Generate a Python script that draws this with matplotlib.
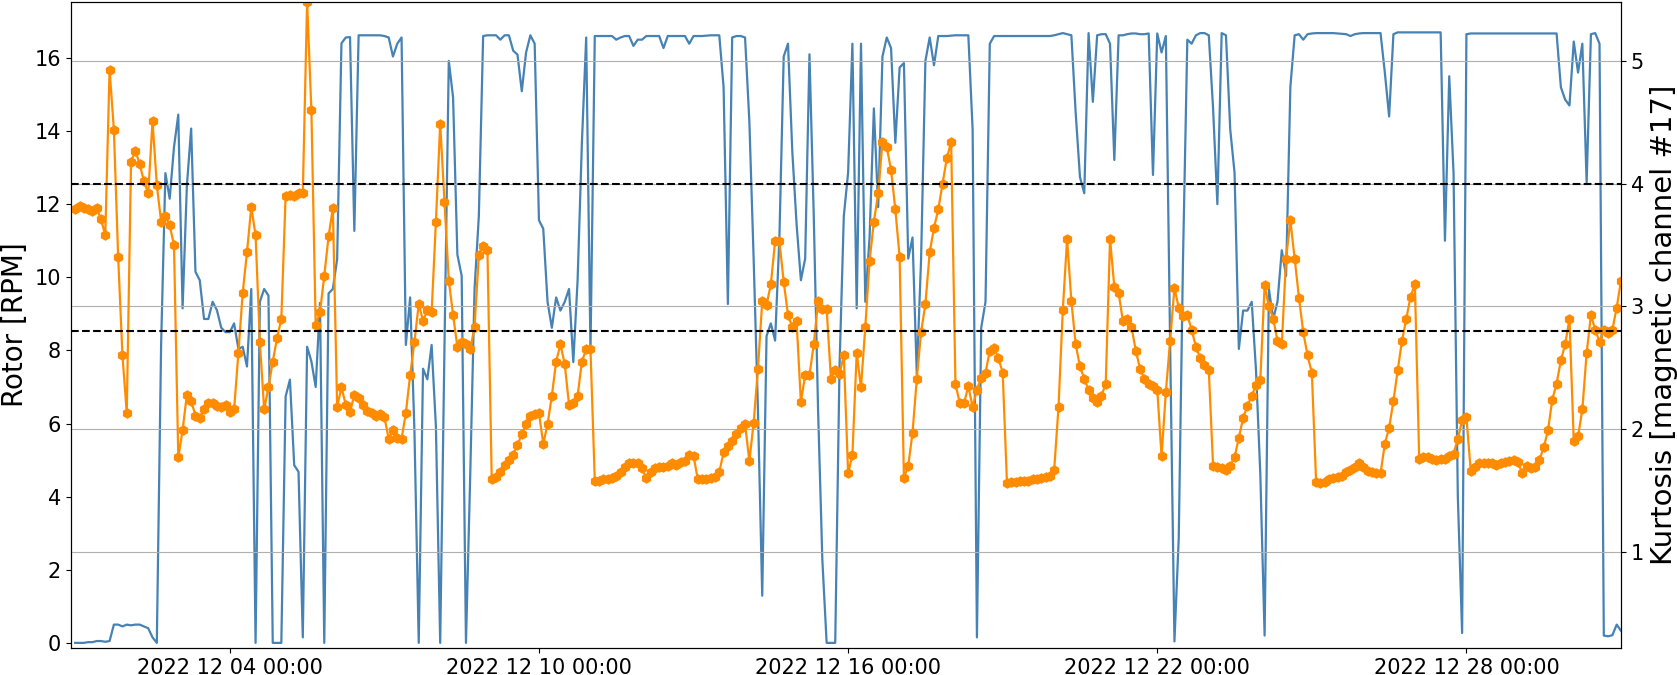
import pandas as pd
import matplotlib
matplotlib.use("Agg")
import matplotlib.pyplot as plt
import matplotlib.dates as mdates

# 2-hourly samples from 2022-12-01 00:00 to 2022-12-31 00:00
start_time = "2022-12-01 00:00"
n_samples = 361

# Rotor speed [RPM]
rotor_rpm = [
    0, 0, 0, 0.02, 0.02, 0.05, 0.05, 0.03, 0.05, 0.50,
    0.50, 0.45, 0.50, 0.48, 0.50, 0.50, 0.45, 0.40, 0.15, 0,
    8.15, 12.85, 12.15, 13.56, 14.45, 9.15, 12.5, 14.07, 10.15, 9.92,
    8.86, 8.86, 9.33, 9.10, 8.62, 8.50, 8.50, 8.74, 8.04, 8.10,
    7.56, 9.68, 0, 9.33, 9.68, 9.50, 0, 0, 0, 6.74,
    7.20, 4.86, 4.68, 0.15, 8.10, 7.70, 7.00, 9.30, 0, 9.56,
    9.68, 10.5, 16.4, 16.56, 16.57, 11.27, 16.62, 16.62, 16.62, 16.62,
    16.62, 16.62, 16.6, 16.56, 16.04, 16.39, 16.56, 8.15, 9.45, 5.8,
    0, 7.5, 7.21, 8.15, 5.92, 0, 8.15, 15.92, 14.92, 10.62,
    10.04, 0, 4.62, 9.68, 11.68, 16.6, 16.62, 16.62, 16.62, 16.5,
    16.62, 16.62, 16.2, 16.09, 15.09, 16.15, 16.62, 16.39, 11.56, 11.33,
    9.33, 8.62, 9.45, 9.09, 9.33, 9.68, 7.68, 9.92, 13.68, 16.56,
    8.0, 16.6, 16.6, 16.6, 16.6, 16.6, 16.5, 16.56, 16.6, 16.6,
    16.33, 16.5, 16.5, 16.6, 16.6, 16.6, 16.6, 16.27, 16.6, 16.6,
    16.6, 16.6, 16.6, 16.39, 16.6, 16.6, 16.6, 16.61, 16.62, 16.62,
    16.62, 15.2, 9.27, 16.56, 16.6, 16.6, 16.56, 14.27, 10.5, 6.39,
    1.29, 8.39, 8.74, 8.27, 11.09, 16.04, 16.39, 13.45, 11.45, 9.92,
    10.51, 16.1, 11.68, 6.39, 2.27, 0, 0, 0, 7.56, 11.68,
    12.86, 16.39, 9.15, 16.39, 9.33, 11.09, 14.62, 11.92, 16.04, 16.56,
    16.27, 13.68, 15.74, 15.86, 10.51, 11.09, 7.33, 10.51, 15.92, 16.56,
    15.8, 16.6, 16.6, 16.6, 16.61, 16.62, 16.62, 16.62, 16.62, 14.04,
    0.15, 8.62, 9.33, 16.39, 16.6, 16.6, 16.6, 16.6, 16.6, 16.6,
    16.6, 16.6, 16.6, 16.6, 16.6, 16.6, 16.6, 16.6, 16.62, 16.65,
    16.68, 16.65, 16.62, 14.5, 12.74, 12.3, 16.68, 14.8, 16.62, 16.65,
    16.65, 16.39, 13.21, 16.62, 16.62, 16.65, 16.67, 16.67, 16.65, 16.65,
    16.67, 12.8, 16.67, 16.15, 16.6, 8.15, 0.04, 2.86, 10.51, 16.5,
    16.39, 16.62, 16.68, 16.68, 16.62, 14.62, 12.0, 16.68, 16.62, 14.04,
    12.86, 8.04, 9.09, 9.09, 9.33, 7.45, 4.62, 0.2, 9.68, 8.86,
    9.33, 10.74, 10.04, 15.21, 16.62, 16.65, 16.5, 16.65, 16.67, 16.68,
    16.68, 16.68, 16.68, 16.68, 16.67, 16.66, 16.65, 16.6, 16.65, 16.67,
    16.68, 16.68, 16.68, 16.68, 16.68, 15.6, 14.4, 16.65, 16.7, 16.7,
    16.7, 16.7, 16.7, 16.7, 16.7, 16.7, 16.7, 16.7, 16.7, 11.0,
    15.5, 12.86, 4.0, 0.27, 16.65, 16.67, 16.67, 16.67, 16.67, 16.67,
    16.67, 16.67, 16.67, 16.67, 16.67, 16.67, 16.67, 16.67, 16.67, 16.67,
    16.67, 16.67, 16.67, 16.67, 16.67, 16.67, 15.2, 14.86, 14.7, 16.45,
    15.6, 16.39, 12.6, 16.65, 16.68, 16.39, 0.2, 0.18, 0.21, 0.5, 0.33,
]

# Kurtosis, magnetic channel #17
kurtosis = [
    3.79, 3.82, 3.80, 3.79, 3.78, 3.80, 3.71, 3.58, 4.93, 4.44,
    3.40, 2.60, 2.13, 4.18, 4.27, 4.16, 4.02, 3.92, 4.51, 3.99,
    3.69, 3.74, 3.66, 3.50, 1.77, 1.99, 2.28, 2.23, 2.11, 2.09,
    2.16, 2.21, 2.21, 2.19, 2.18, 2.20, 2.14, 2.16, 2.62, 3.11,
    3.44, 3.81, 3.58, 2.71, 2.16, 2.34, 2.55, 2.74, 2.90, 3.90,
    3.91, 3.90, 3.92, 3.92, 5.48, 4.60, 2.85, 2.95, 3.25, 3.57,
    3.80, 2.18, 2.34, 2.20, 2.14, 2.28, 2.25, 2.20, 2.15, 2.13,
    2.11, 2.12, 2.10, 1.92, 1.99, 1.93, 1.92, 2.13, 2.44, 2.71,
    3.02, 2.88, 2.97, 2.95, 3.69, 4.49, 3.85, 3.21, 2.93, 2.67,
    2.71, 2.69, 2.65, 2.83, 3.42, 3.49, 3.46, 1.59, 1.61, 1.65,
    1.71, 1.75, 1.79, 1.87, 1.96, 2.04, 2.11, 2.12, 2.13, 1.88,
    2.04, 2.27, 2.55, 2.69, 2.53, 2.20, 2.21, 2.27, 2.55, 2.65,
    2.65, 1.58, 1.58, 1.59, 1.59, 1.60, 1.62, 1.65, 1.69, 1.72,
    1.72, 1.72, 1.68, 1.60, 1.65, 1.68, 1.69, 1.69, 1.70, 1.72,
    1.71, 1.73, 1.74, 1.79, 1.78, 1.59, 1.59, 1.59, 1.60, 1.61,
    1.65, 1.81, 1.86, 1.90, 1.96, 2.01, 2.04, 1.74, 2.05, 2.49,
    3.04, 3.01, 3.18, 3.53, 3.53, 3.20, 2.93, 2.83, 2.88, 2.22,
    2.44, 2.44, 2.69, 3.04, 2.98, 2.98, 2.41, 2.48, 2.45, 2.60,
    1.64, 1.79, 2.62, 2.34, 2.83, 3.37, 3.69, 3.92, 4.34, 4.30,
    4.11, 3.79, 3.40, 1.60, 1.70, 1.97, 2.41, 2.79, 3.02, 3.44,
    3.64, 3.79, 4.00, 4.21, 4.34, 2.37, 2.21, 2.21, 2.35, 2.18,
    2.32, 2.42, 2.46, 2.64, 2.66, 2.58, 2.46, 1.56, 1.57, 1.57,
    1.58, 1.58, 1.58, 1.59, 1.59, 1.60, 1.61, 1.62, 1.67, 2.18,
    2.97, 3.55, 3.04, 2.69, 2.51, 2.41, 2.32, 2.25, 2.22, 2.27,
    2.37, 3.55, 3.16, 3.11, 2.88, 2.90, 2.83, 2.64, 2.49, 2.41,
    2.37, 2.35, 2.32, 1.78, 2.30, 2.72, 3.15, 2.99, 2.92, 2.93,
    2.81, 2.67, 2.58, 2.52, 2.48, 1.70, 1.69, 1.68, 1.67, 1.70,
    1.77, 1.93, 2.09, 2.19, 2.27, 2.36, 2.40, 3.17, 3.00, 2.90,
    2.72, 2.69, 3.39, 3.70, 3.39, 3.07, 2.79, 2.60, 2.46, 1.57,
    1.56, 1.57, 1.59, 1.60, 1.61, 1.62, 1.65, 1.67, 1.69, 1.72,
    1.69, 1.66, 1.65, 1.64, 1.64, 1.88, 2.01, 2.23, 2.48, 2.72,
    2.90, 3.08, 3.18, 1.76, 1.77, 1.77, 1.76, 1.75, 1.76, 1.76,
    1.78, 1.80, 1.92, 2.07, 2.10, 1.66, 1.69, 1.72, 1.72, 1.72,
    1.72, 1.71, 1.72, 1.73, 1.74, 1.75, 1.73, 1.64, 1.70, 1.68,
    1.69, 1.75, 1.85, 1.99, 2.24, 2.37, 2.56, 2.69, 2.90, 1.90,
    1.94, 2.16, 2.62, 2.93, 2.81, 2.71, 2.81, 2.78, 2.81, 2.99, 3.21,
]

# alarm thresholds on the kurtosis axis
thresholds = [4.0, 2.8]

times = pd.date_range(start_time, periods=n_samples, freq="2h")

fig = plt.figure(figsize=(16.77, 6.75), dpi=100)
ax = fig.add_axes([0.0423, 0.04, 0.9243, 0.957])
ax.plot(times, rotor_rpm, color="steelblue", linewidth=1.6)
ax.set_ylim(-0.14, 17.53)
ax.set_yticks(range(0, 17, 2))
ax.set_ylabel("Rotor [RPM]", fontsize=20)
ax.tick_params(labelsize=15)

ax2 = ax.twinx()
ax2.plot(times, kurtosis, color="darkorange", marker="h", markersize=6.5, linewidth=1.6)
for t in thresholds:
    ax2.axhline(t, color="black", linestyle="--", linewidth=1.5)
ax2.set_ylim(0.216, 5.48)
ax2.set_yticks([1, 2, 3, 4, 5])
ax2.grid(axis="y", color="#b0b0b0", linewidth=0.8)
ax2.set_ylabel("Kurtosis [magnetic channel #17]", fontsize=21)
ax2.tick_params(labelsize=15)

ax.set_xlim(pd.Timestamp("2022-11-30 22:00"), pd.Timestamp("2022-12-31 00:00"))
ax.xaxis.set_major_locator(mdates.DayLocator(bymonthday=[4, 10, 16, 22, 28]))
ax.xaxis.set_major_formatter(mdates.DateFormatter("%Y %m %d %H:%M"))

fig.savefig("out.png", dpi=100)
